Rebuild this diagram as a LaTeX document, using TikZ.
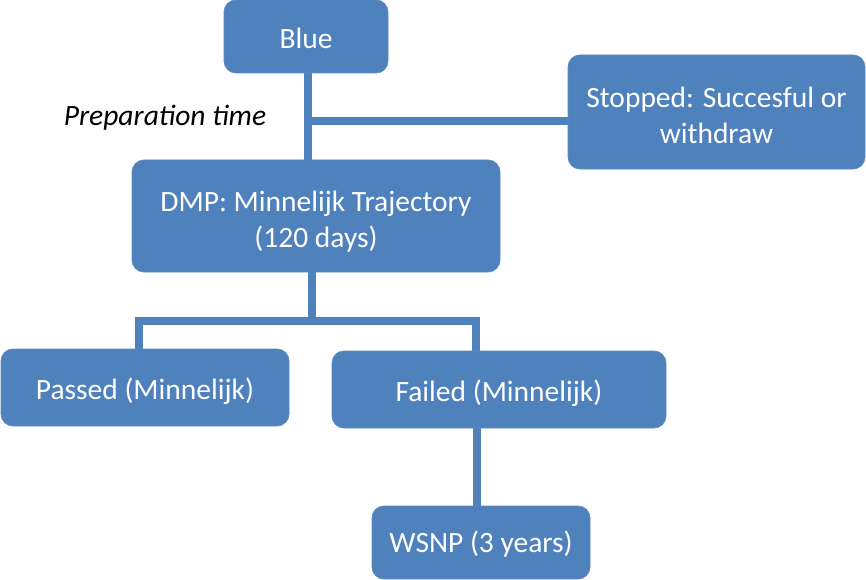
\documentclass[tikz,border=0pt]{standalone}
\usepackage{fontspec}
\setmainfont{Carlito}
\usetikzlibrary{backgrounds}
\definecolor{boxblue}{HTML}{4F81BD}
\begin{document}
\begin{tikzpicture}[x=1pt,y=-1pt,
  box/.style={rectangle, rounded corners=12pt, fill=boxblue, draw=boxblue!92!white,
    line width=0.8pt, text=white, align=center, inner sep=0pt,
    font=\fontsize{29.5}{35.5}\selectfont},
  % fixed text box so that the last baseline sits where wanted
  tb/.style={text height=#1, text depth=0pt},
  link/.style={draw=boxblue, line width=8pt},
  linkshadow/.style={draw=black!35, line width=8pt, opacity=0.45}]
\useasboundingbox (0,0) rectangle (866,580);

% boxes
\node[box, tb=25pt, minimum width=164pt, minimum height=73pt] (blue) at (306,36.5) {Blue};
\node[box, tb=62pt, minimum width=297pt, minimum height=114pt] (stopped) at (716.5,112) {Stopped: Succesful or\\withdraw};
\node[box, tb=62pt, minimum width=368pt, minimum height=112pt] (dmp) at (316,216) {DMP: Minnelijk Trajectory\\(120 days)};
\node[box, tb=23pt, minimum width=288pt, minimum height=77pt] (passed) at (145,387.5) {Passed (Minnelijk)};
\node[box, tb=23pt, minimum width=334pt, minimum height=77pt] (failed) at (499,389.5) {Failed (Minnelijk)};
\node[box, tb=19pt, minimum width=218pt, minimum height=73pt] (wsnp) at (481,542.5) {WSNP (3 years)};

\node[font=\fontsize{29.5}{35}\selectfont\itshape, inner sep=0pt, anchor=base] (prep) at (165,126) {Preparation time};

% junction points of the connectors
\coordinate (j1) at (308,121);
\coordinate (j2) at (312,321);
\coordinate (pl) at (139,321);
\coordinate (pr) at (476,321);
\coordinate (fw) at (477,428);

\begin{scope}[on background layer]
  \begin{scope}[shift={(2,3)}]
    \draw[linkshadow] (blue.south -| j1) -- (j1 |- dmp.north);
    \draw[linkshadow] (j1) -- (j1 -| stopped.west);
    \draw[linkshadow] (dmp.south -| j2) -- (j2);
    \draw[linkshadow] (pl) -- (pr);
    \draw[linkshadow] (pl) -- (pl |- passed.north);
    \draw[linkshadow] (pr) -- (pr |- failed.north);
    \draw[linkshadow] (failed.south -| fw) -- (fw |- wsnp.north);
  \end{scope}
  \draw[link] (blue.south -| j1) -- (j1 |- dmp.north);
  \draw[link] ([xshift=-4pt]j1) -- (j1 -| stopped.west);
  \draw[link] (dmp.south -| j2) -- ([yshift=4pt]j2);
  \draw[link] ([xshift=-4pt]pl) -- ([xshift=4pt]pr);
  \draw[link] ([yshift=-4pt]pl) -- (pl |- passed.north);
  \draw[link] ([yshift=-4pt]pr) -- (pr |- failed.north);
  \draw[link] (failed.south -| fw) -- (fw |- wsnp.north);
\end{scope}
\end{tikzpicture}
\end{document}
